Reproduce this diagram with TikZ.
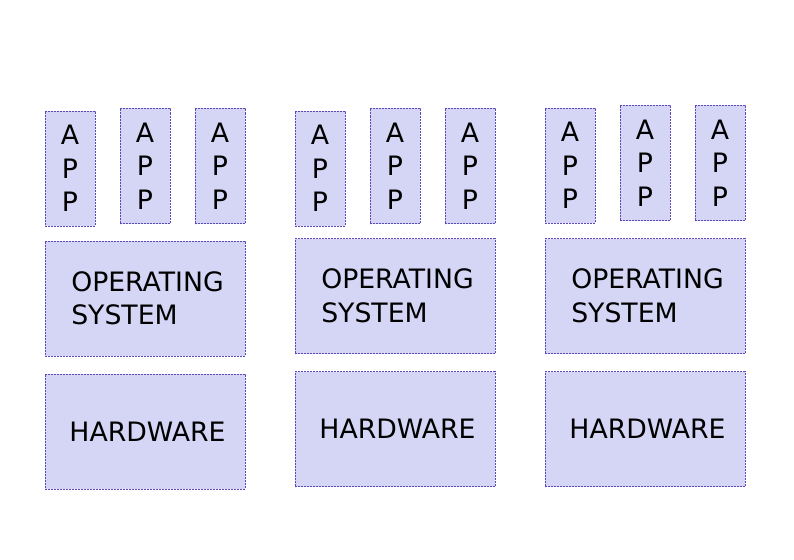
\documentclass[tikz,border=0pt]{standalone}
\usepackage{fontspec}
\setmainfont{DejaVu Sans}
\usepackage{xcolor}
\definecolor{boxfill}{HTML}{D5D5F5}
\definecolor{boxline}{HTML}{5C48B8}
\newcommand{\pushr}{\hspace*{5pt}}

\begin{document}
\begin{tikzpicture}[x=1pt,y=-1pt,
  layer/.style={draw=boxline,dash pattern=on 2pt off 1pt,line width=0.7pt,fill=boxfill,
    inner sep=0pt,font=\fontsize{26.7}{33.5}\selectfont},
  app/.style={layer,minimum width=50pt,minimum height=115pt,align=center},
  os/.style={layer,minimum width=200pt,minimum height=115pt,align=left},
  hw/.style={layer,minimum width=200pt,minimum height=115pt}]
  \useasboundingbox (0,0) rectangle (794,559);
  % first machine
  \node[app] (appA1) at (70,168.5) {A\\P\\P};
  \node[app] (appA2) at (145,166) {A\\P\\P};
  \node[app] (appA3) at (220,166) {A\\P\\P};
  \node[os] (osA) at (145,298.5) {\pushr OPERATING\\\pushr SYSTEM};
  \node[hw] (hwA) at (145,431.5) {\pushr HARDWARE};
  % second machine
  \node[app] (appB1) at (320,168.5) {A\\P\\P};
  \node[app] (appB2) at (395,166) {A\\P\\P};
  \node[app] (appB3) at (470,166) {A\\P\\P};
  \node[os] (osB) at (395,296) {\pushr OPERATING\\\pushr SYSTEM};
  \node[hw] (hwB) at (395,429) {\pushr HARDWARE};
  % third machine
  \node[app] (appC1) at (570,165.5) {A\\P\\P};
  \node[app] (appC2) at (645,163) {A\\P\\P};
  \node[app] (appC3) at (720,163) {A\\P\\P};
  \node[os] (osC) at (645,296) {\pushr OPERATING\\\pushr SYSTEM};
  \node[hw] (hwC) at (645,429) {\pushr HARDWARE};
\end{tikzpicture}
\end{document}
